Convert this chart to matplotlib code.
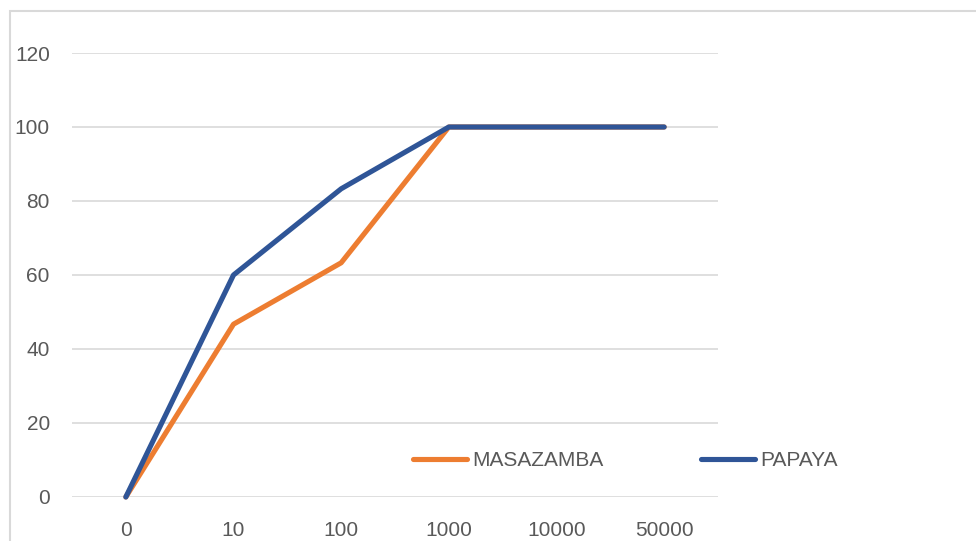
import matplotlib
matplotlib.use("Agg")
import matplotlib.pyplot as plt
from matplotlib.patches import Rectangle

categories = ["0", "10", "100", "1000", "10000", "50000"]
masazamba = [0, 46.7, 63.3, 100, 100, 100]
papaya = [0, 60, 83.3, 100, 100, 100]
yticks = [0, 20, 40, 60, 80, 100, 120]

W, H = 976, 541
fig = plt.figure(figsize=(W / 100, H / 100), dpi=100)
plt.rcParams['font.family'] = ['Liberation Sans', 'DejaVu Sans']

# chart frame
fig.patches.append(Rectangle((9.5 / W, -0.2), 1.2, 1.2 - 11 / H, transform=fig.transFigure,
                             fill=False, edgecolor='#d9d9d9', linewidth=1.5))

ax = fig.add_axes([72 / W, (H - 497) / H, (718 - 72) / W, (497 - 53) / H])
x = list(range(len(categories)))
ax.plot(x, masazamba, color='#ED7D31', lw=3.7, solid_capstyle='round', clip_on=False,
        label='MASAZAMBA', zorder=3)
ax.plot(x, papaya, color='#2F5597', lw=3.7, solid_capstyle='round', clip_on=False,
        label='PAPAYA', zorder=4)

ax.set_xlim(-0.5, len(categories) - 0.5)
ax.set_ylim(0, 120)
ax.set_yticks(yticks)
ax.set_xticks(x)
ax.set_xticklabels(categories)
ax.grid(axis='y', color='#d9d9d9', linewidth=1.2)
ax.set_axisbelow(True)
for s in ax.spines.values():
    s.set_visible(False)
ax.tick_params(axis='both', length=0, labelsize=15, labelcolor='#595959')
ax.tick_params(axis='y', pad=16)
ax.tick_params(axis='x', pad=17)

leg = ax.legend(loc='center', bbox_to_anchor=(625.5 / W, 1 - 461 / H),
                bbox_transform=fig.transFigure, ncol=2, frameon=False, fontsize=15,
                handlelength=2.6, handletextpad=0.25, columnspacing=4.65, borderpad=0)
for t in leg.get_texts():
    t.set_color('#595959')

fig.savefig('out.png', dpi=100, facecolor='white')
